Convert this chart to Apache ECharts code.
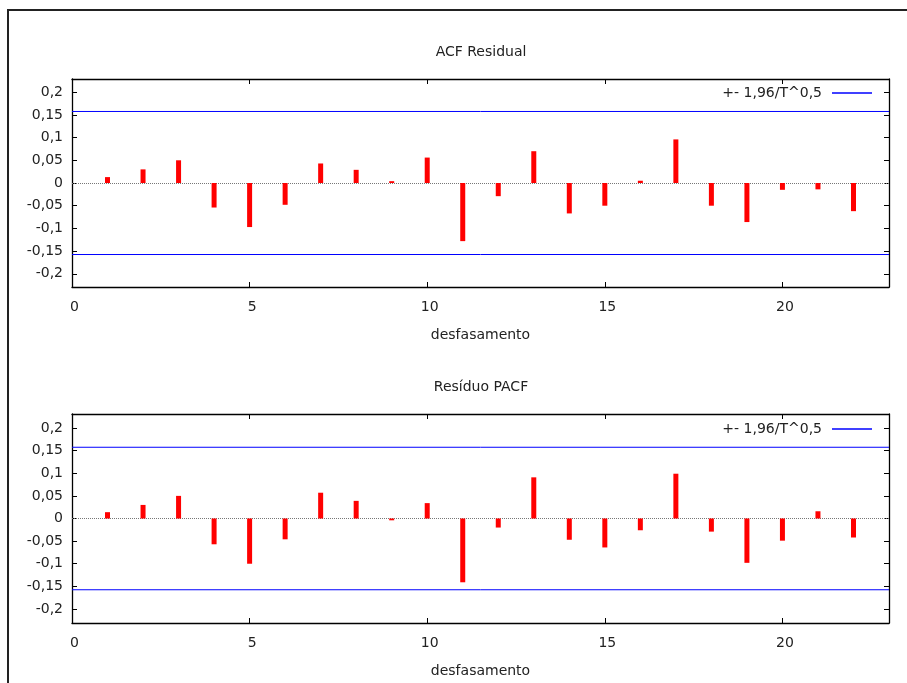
<!DOCTYPE html>
<html>
<head>
<meta charset="utf-8">
<script src="https://cdn.jsdelivr.net/npm/echarts@6/dist/echarts.min.js"></script>
<style>
  html, body { margin: 0; padding: 0; background: #fff; }
  #chart { width: 907px; height: 683px; }
  /* outer frame of the original figure */
  .frame {
    position: absolute; left: 7px; top: 9px; width: 2000px; height: 2000px;
    border-left: 2px solid #222; border-top: 2px solid #222;
    pointer-events: none;
  }
</style>
</head>
<body>
<div id="chart"></div>
<div class="frame"></div>
<script>
// lags 1..22
const lags = [1, 2, 3, 4, 5, 6, 7, 8, 9, 10, 11, 12, 13, 14, 15, 16, 17, 18, 19, 20, 21, 22]
const acfValues = [0.013, 0.030, 0.050, -0.054, -0.097, -0.048, 0.043, 0.029, 0.004, 0.056,
  -0.128, -0.029, 0.070, -0.067, -0.050, 0.005, 0.096, -0.050, -0.086, -0.015, -0.014, -0.062]
const pacfValues = [0.014, 0.030, 0.050, -0.057, -0.100, -0.046, 0.057, 0.039, -0.004, 0.034,
  -0.141, -0.020, 0.091, -0.047, -0.064, -0.026, 0.099, -0.029, -0.098, -0.049, 0.016, -0.042]
const bandLimit = 0.1575
const xExtent = [0, 23]
const xTicks = [0, 5, 10, 15, 20]
const yTicks = [-0.2, -0.15, -0.1, -0.05, 0, 0.05, 0.1, 0.15, 0.2]
const titles = ['ACF Residual', 'Resíduo PACF']
const bandName = '+- 1,96/T^0,5'
const xName = 'desfasamento'

const font = 'DejaVu Sans'
const textColor = '#222'
const blue = '#0000ff'

const chart = echarts.init(document.getElementById('chart'))

const fmt = v => String(v).replace('.', ',')

const grids = [
  { left: 72, top: 79, width: 817, height: 208 },
  { left: 72, top: 414, width: 817, height: 209 }
]
const yRanges = [0.229, 0.231]

const xAxes = []
const yAxes = []
const series = []
grids.forEach((g, i) => {
  const axisLine = { show: true, onZero: false, lineStyle: { color: '#000', width: 1.3 } }
  xAxes.push({
    gridIndex: i, type: 'value', min: xExtent[0], max: xExtent[1], position: 'bottom',
    axisLine,
    splitLine: { show: false },
    axisTick: { inside: true, length: 5, customValues: xTicks, lineStyle: { color: '#000' } },
    axisLabel: {
      customValues: xTicks, margin: 13, fontFamily: font, fontSize: 14, color: textColor,
      padding: [0, 0, 0, 5]
    },
    name: xName, nameLocation: 'middle', nameGap: 41,
    nameTextStyle: { fontFamily: font, fontSize: 14, color: textColor }
  })
  xAxes.push({
    gridIndex: i, type: 'value', min: xExtent[0], max: xExtent[1], position: 'top',
    axisLine,
    splitLine: { show: false },
    axisTick: { inside: true, length: 5, customValues: xTicks, lineStyle: { color: '#000' } },
    axisLabel: { show: false }
  })
  yAxes.push({
    gridIndex: i, type: 'value', min: -yRanges[i], max: yRanges[i], position: 'left',
    axisLine,
    splitLine: { show: false },
    axisTick: { show: true, inside: true, length: 5, customValues: yTicks, lineStyle: { color: '#000' } },
    axisLabel: {
      customValues: yTicks, margin: 9, fontFamily: font, fontSize: 14, color: textColor,
      formatter: fmt
    }
  })
  yAxes.push({
    gridIndex: i, type: 'value', min: -yRanges[i], max: yRanges[i], position: 'right',
    axisLine,
    splitLine: { show: false },
    axisTick: { show: true, inside: true, length: 5, customValues: yTicks, lineStyle: { color: '#000' } },
    axisLabel: { show: false }
  })

  const values = i === 0 ? acfValues : pacfValues
  series.push({
    type: 'bar', name: titles[i],
    xAxisIndex: i * 2, yAxisIndex: i * 2,
    data: lags.map((l, k) => [l, values[k]]),
    barWidth: 5,
    itemStyle: { color: '#ff0000' },
    silent: true,
    z: 3,
    markLine: {
      silent: true, symbol: 'none', label: { show: false },
      lineStyle: { type: 'dotted', color: '#777', width: 1 },
      data: [{ yAxis: 0 }],
      z: 2
    }
  })
  // upper and lower significance bounds
  ;[bandLimit, -bandLimit].forEach(b => {
    series.push({
      type: 'line', name: bandName,
      xAxisIndex: i * 2, yAxisIndex: i * 2,
      data: xExtent.map(x => [x, b]),
      color: blue,
      symbol: 'none',
      silent: true,
      lineStyle: { color: blue, width: 1 },
      z: 4
    })
  })
})

const legendBase = {
  data: [bandName], right: 35, padding: 0, align: 'right',
  icon: 'rect', itemWidth: 40, itemHeight: 1.5, selectedMode: false,
  itemStyle: { color: blue },
  textStyle: { fontFamily: font, fontSize: 14, color: textColor, padding: [0, 5, 0, 0] }
}

const option = {
  animation: false,
  backgroundColor: '#fff',
  title: [
    { text: titles[0], left: 481, top: 45, textAlign: 'center', padding: 0,
      textStyle: { fontFamily: font, fontSize: 14, fontWeight: 'normal', color: textColor } },
    { text: titles[1], left: 481, top: 380, textAlign: 'center', padding: 0,
      textStyle: { fontFamily: font, fontSize: 14, fontWeight: 'normal', color: textColor } }
  ],
  legend: [
    Object.assign({}, legendBase, { top: 86 }),
    Object.assign({}, legendBase, { top: 422 })
  ],
  grid: grids,
  xAxis: xAxes,
  yAxis: yAxes,
  series
}

chart.setOption(option)
</script>
</body>
</html>
